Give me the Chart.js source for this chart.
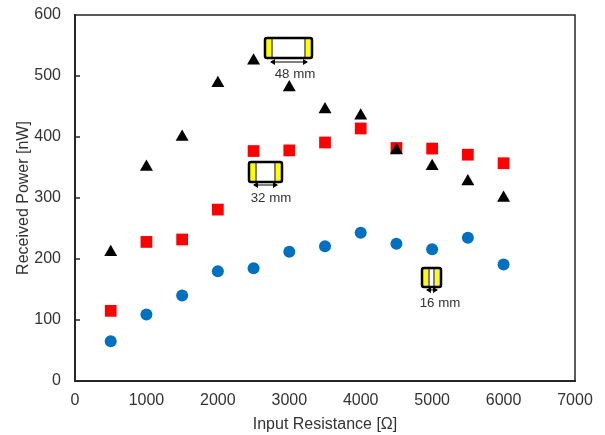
<!DOCTYPE html>
<html>
<head>
<meta charset="utf-8">
<style>
  html, body { margin: 0; padding: 0; background: #fff; }
  canvas { display: block; }
</style>
<script src="https://cdn.jsdelivr.net/npm/chart.js@4"></script>
</head>
<body>
<canvas id="powerChart" width="605" height="435"></canvas>
<script>
const resistance = [500, 1000, 1500, 2000, 2500, 3000, 3500, 4000, 4500, 5000, 5500, 6000];
const power48mm = [211, 351, 400, 488, 525, 481, 445, 435, 378, 352, 327, 300];
const power32mm = [115, 228, 232, 281, 377, 378, 391, 414, 382, 381, 371, 357];
const power16mm = [65, 109, 140, 180, 185, 212, 221, 243, 225, 216, 235, 191];

function toPoints(values) {
    return values.map((v, i) => ({ x: resistance[i], y: v }));
}

// little electrode sketches next to the points
function drawInset(ctx, box, arrow, label) {
    const [left, top, w, h] = box;
    const yw = 5;
    ctx.save();
    ctx.fillStyle = '#fff';
    ctx.fillRect(left, top, w, h);
    ctx.fillStyle = '#ffff00';
    ctx.fillRect(left + 1, top + 1, yw, h - 2);
    ctx.fillRect(left + w - 1 - yw, top + 1, yw, h - 2);
    ctx.strokeStyle = '#000';
    ctx.lineWidth = 1;
    ctx.beginPath();
    ctx.moveTo(left + yw + 2, top);
    ctx.lineTo(left + yw + 2, top + h);
    ctx.moveTo(left + w - yw - 2, top);
    ctx.lineTo(left + w - yw - 2, top + h);
    ctx.stroke();
    ctx.lineWidth = 2.5;
    ctx.beginPath();
    ctx.roundRect(left, top, w, h, 2);
    ctx.stroke();

    const [arrowY, arrowL, arrowR] = arrow;
    ctx.lineWidth = 1;
    ctx.beginPath();
    ctx.moveTo(arrowL, arrowY);
    ctx.lineTo(arrowR, arrowY);
    ctx.stroke();
    ctx.fillStyle = '#000';
    ctx.beginPath();
    ctx.moveTo(arrowL - 1, arrowY);
    ctx.lineTo(arrowL + 4, arrowY - 3);
    ctx.lineTo(arrowL + 4, arrowY + 3);
    ctx.closePath();
    ctx.moveTo(arrowR + 1, arrowY);
    ctx.lineTo(arrowR - 4, arrowY - 3);
    ctx.lineTo(arrowR - 4, arrowY + 3);
    ctx.closePath();
    ctx.fill();

    ctx.fillStyle = '#333';
    ctx.font = '13.3px "Liberation Sans"';
    ctx.textAlign = 'center';
    ctx.textBaseline = 'middle';
    ctx.fillText(label[0], label[1], label[2]);
    ctx.restore();
}

const insetPlugin = {
    id: 'insets',
    afterDatasetsDraw(chart) {
        const ctx = chart.ctx;
        const { left, right, top, bottom } = chart.chartArea;
        // the frame on the top and right, and short inward ticks on the y axis
        ctx.save();
        ctx.strokeStyle = '#262626';
        ctx.lineWidth = 1.5;
        ctx.beginPath();
        ctx.moveTo(left, top);
        ctx.lineTo(right, top);
        ctx.lineTo(right, bottom);
        chart.scales.y.ticks.forEach(t => {
            const y = chart.scales.y.getPixelForValue(t.value);
            ctx.moveTo(left, y);
            ctx.lineTo(left + 5, y);
        });
        ctx.stroke();
        ctx.restore();

        drawInset(ctx, [265, 38, 47, 20], [62, 271, 307], ['48 mm', 295, 74]);
        drawInset(ctx, [249, 162, 33, 20], [185, 254, 277], ['32 mm', 271, 198]);
        drawInset(ctx, [422, 268, 19, 19], [290, 427, 437], ['16 mm', 440, 303]);
    }
};

const tickFont = { family: '"Liberation Sans"', size: 16 };
const titleFont = { family: '"Liberation Sans"', size: 16 };
const textColor = '#333';

new Chart(document.getElementById('powerChart'), {
    type: 'scatter',
    data: {
        datasets: [
            { label: '48 mm', data: toPoints(power48mm), pointStyle: 'triangle', pointRadius: 7.5, backgroundColor: '#000', borderColor: '#000', borderWidth: 0 },
            { label: '32 mm', data: toPoints(power32mm), pointStyle: 'rect', pointRadius: 8.3, backgroundColor: '#ff0000', borderColor: '#ff0000', borderWidth: 0 },
            { label: '16 mm', data: toPoints(power16mm), pointStyle: 'circle', pointRadius: 6, backgroundColor: '#0070c0', borderColor: '#0070c0', borderWidth: 0 }
        ]
    },
    options: {
        responsive: false,
        animation: false,
        layout: { padding: { top: 15, right: 30, bottom: 0, left: 0 } },
        plugins: { legend: { display: false }, tooltip: { enabled: false } },
        scales: {
            x: {
                min: 0,
                max: 7000,
                ticks: { stepSize: 1000, color: textColor, font: tickFont, maxRotation: 0, padding: 10, callback: v => String(v) },
                grid: { display: false, drawTicks: false },
                border: { color: '#262626', width: 2 },
                title: { display: true, text: 'Input Resistance [Ω]', color: textColor, font: titleFont, padding: { top: 2, bottom: 1 } },
                afterFit(scale) { scale.height = 54; scale.paddingLeft = 0; scale.paddingRight = 0; }
            },
            y: {
                min: 0,
                max: 600,
                ticks: { stepSize: 100, color: textColor, font: tickFont, padding: 14 },
                grid: { display: false, drawTicks: false },
                border: { color: '#262626', width: 2 },
                title: { display: true, text: 'Received Power [nW]', color: textColor, font: titleFont, padding: { top: 14, bottom: 0 } },
                afterFit(scale) { scale.width = 75; scale.paddingTop = 0; scale.paddingBottom = 0; }
            }
        }
    },
    plugins: [insetPlugin]
});
</script>
</body>
</html>
